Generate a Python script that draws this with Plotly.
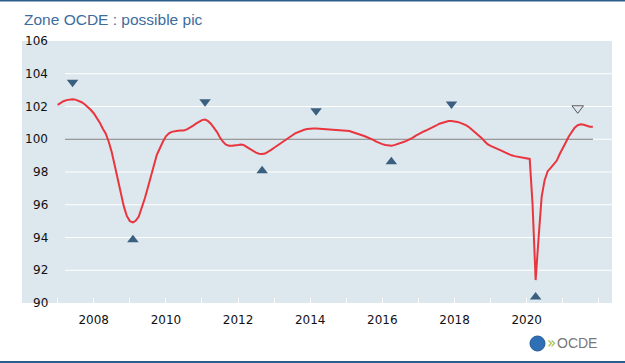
import plotly.graph_objects as go
import pandas as pd

# ---- data ----
cli_values = [
    # 2007
    102.10, 102.22, 102.32, 102.39, 102.43, 102.44, 102.42, 102.36, 102.26, 102.14, 101.98, 101.80,
    # 2008
    101.59, 101.32, 101.03, 100.66, 100.35, 99.85, 99.22, 98.40, 97.55, 96.65, 95.90, 95.32,
    # 2009
    95.00, 94.92, 95.02, 95.28, 95.80, 96.38, 97.02, 97.65, 98.40, 99.05, 99.48, 99.85,
    # 2010
    100.18, 100.36, 100.45, 100.50, 100.52, 100.53, 100.54, 100.60, 100.70, 100.82, 100.95, 101.08,
    # 2011
    101.17, 101.20, 101.12, 100.95, 100.72, 100.45, 100.12, 99.85, 99.67, 99.60, 99.60, 99.61,
    # 2012
    99.65, 99.68, 99.64, 99.52, 99.40, 99.28, 99.18, 99.12, 99.10, 99.13, 99.22, 99.35,
    # 2013
    99.48, 99.60, 99.72, 99.85, 99.97, 100.10, 100.23, 100.36, 100.45, 100.52, 100.58, 100.62,
    # 2014
    100.65, 100.66, 100.66, 100.65, 100.64, 100.62, 100.59, 100.57, 100.57, 100.56, 100.55, 100.53,
    # 2015
    100.52, 100.50, 100.45, 100.38, 100.32, 100.26, 100.20, 100.12, 100.06, 99.96, 99.85, 99.76,
    # 2016
    99.70, 99.65, 99.62, 99.61, 99.64, 99.69, 99.76, 99.83, 99.90, 99.98, 100.09, 100.20,
    # 2017
    100.31, 100.40, 100.49, 100.57, 100.65, 100.74, 100.84, 100.95, 101.02, 101.07, 101.11, 101.12,
    # 2018
    101.10, 101.06, 101.00, 100.94, 100.85, 100.72, 100.57, 100.43, 100.25, 100.08, 99.88, 99.70,
    # 2019
    99.60, 99.53, 99.46, 99.38, 99.28, 99.18, 99.08, 99.02, 98.97, 98.94, 98.92, 98.90,
    # 2020
    98.86, 98.80, 96.00, 91.40, 94.00, 96.50, 97.50, 98.05, 98.25, 98.45, 98.70, 99.10,
    # 2021
    99.50, 99.82, 100.15, 100.45, 100.70, 100.86, 100.91, 100.88, 100.80, 100.76, 100.77,
]
cli_dates = pd.date_range("2007-01-01", periods=len(cli_values), freq="MS")

peak_dates = ["2007-06-01", "2011-02-01", "2014-03-01", "2017-12-01"]
peak_marks = [103.48, 102.29, 101.74, 102.15]
trough_dates = ["2009-02-01", "2012-09-01", "2016-04-01", "2020-04-01"]
trough_marks = [93.86, 98.07, 98.63, 90.37]
possible_peak_dates = ["2021-06-01"]
possible_peak_marks = [101.89]

y_ticks = [90, 92, 94, 96, 98, 100, 102, 104, 106]
x_tick_years = list(range(2006, 2023))
x_label_years = [2008, 2010, 2012, 2014, 2016, 2018, 2020]
title_text = "Zone OCDE : possible pic"

# ---- figure geometry helpers (pixel -> paper) ----
W, H = 625, 363
L, R, T, B = 22, 13, 41, 60
PW, PH = W - L - R, H - T - B
def px(x):
    return (x - L) / PW
def py(y):
    return (H - B - y) / PH

BG = "#dde7ee"
RED = "#e8353e"
MARK = "#3b5f7e"
TICKFONT = dict(family="DejaVu Sans", size=12, color="#111111")

fig = go.Figure()
fig.add_trace(go.Scatter(x=cli_dates, y=cli_values, mode="lines",
                         line=dict(color=RED, width=2), hoverinfo="skip"))
fig.add_trace(go.Scatter(x=peak_dates, y=peak_marks, mode="markers",
                         marker=dict(symbol="triangle-down", size=10, color=MARK),
                         cliponaxis=False))
fig.add_trace(go.Scatter(x=trough_dates, y=trough_marks, mode="markers",
                         marker=dict(symbol="triangle-up", size=10, color=MARK),
                         cliponaxis=False))
fig.add_trace(go.Scatter(x=possible_peak_dates, y=possible_peak_marks, mode="markers",
                         marker=dict(symbol="triangle-down-open", size=10, color="#555555",
                                     line=dict(width=1)),
                         cliponaxis=False))

shapes = []
# horizontal gridlines (start right of the value labels)
for v in y_ticks[1:-1]:
    shapes.append(dict(type="line", xref="paper", yref="y", x0=px(65), x1=1, y0=v, y1=v,
                       line=dict(color="white", width=1), layer="below"))
# reference line at 100
shapes.append(dict(type="line", xref="paper", yref="y", x0=px(65), x1=px(593), y0=100, y1=100,
                   line=dict(color="#7a7a7a", width=1.2), layer="below"))
# top and bottom frame lines
shapes.append(dict(type="line", xref="paper", yref="paper", x0=px(0), x1=px(W), y0=py(0.5), y1=py(0.5),
                   line=dict(color="#2e5d8c", width=2)))
shapes.append(dict(type="line", xref="paper", yref="paper", x0=px(0), x1=px(W), y0=py(362), y1=py(362),
                   line=dict(color="#2e5d8c", width=2)))
# logo globe
shapes.append(dict(type="circle", xref="paper", yref="paper",
                   x0=px(530), x1=px(545), y0=py(351), y1=py(336),
                   fillcolor="#2f6fb3", line=dict(color="#1f5a99", width=1)))

annotations = []
for v in y_ticks:
    annotations.append(dict(x=px(50), y=v, xref="paper", yref="y", text=str(v),
                            showarrow=False, xanchor="right", yanchor="middle", font=TICKFONT))
annotations.append(dict(x=px(22), y=py(20), xref="paper", yref="paper", text=title_text,
                        showarrow=False, xanchor="left", yanchor="middle",
                        font=dict(family="Liberation Sans", size=15.5, color="#3d6c9e")))
annotations.append(dict(x=px(545), y=py(343), xref="paper", yref="paper", text="»",
                        showarrow=False, xanchor="left", yanchor="middle",
                        font=dict(family="DejaVu Sans", size=15, color="#9bbb3b")))
annotations.append(dict(x=px(555), y=py(343), xref="paper", yref="paper", text="OCDE",
                        showarrow=False, xanchor="left", yanchor="middle",
                        font=dict(family="Liberation Sans", size=14, color="#777777")))

fig.update_layout(
    width=W, height=H,
    margin=dict(l=L, r=R, t=T, b=B, pad=0, autoexpand=False),
    paper_bgcolor="white", plot_bgcolor=BG,
    showlegend=False,
    shapes=shapes, annotations=annotations,
    xaxis=dict(type="date", range=["2006-01-05", "2022-05-14"], automargin=False,
               tickvals=[f"{y}-01-01" for y in x_tick_years],
               ticktext=[str(y) if y in x_label_years else "" for y in x_tick_years],
               ticks="inside", ticklen=5, tickcolor="white", tickwidth=1,
               showgrid=False, zeroline=False, showline=False,
               tickfont=TICKFONT, ticklabelstandoff=8),
    yaxis=dict(range=[90, 106], automargin=False, showgrid=False, zeroline=False, showline=False,
               showticklabels=False, ticks=""),
)

fig.write_html("out.html", config={"displayModeBar": False},
               post_script="document.body.style.margin='0';document.body.style.overflow='hidden';")
